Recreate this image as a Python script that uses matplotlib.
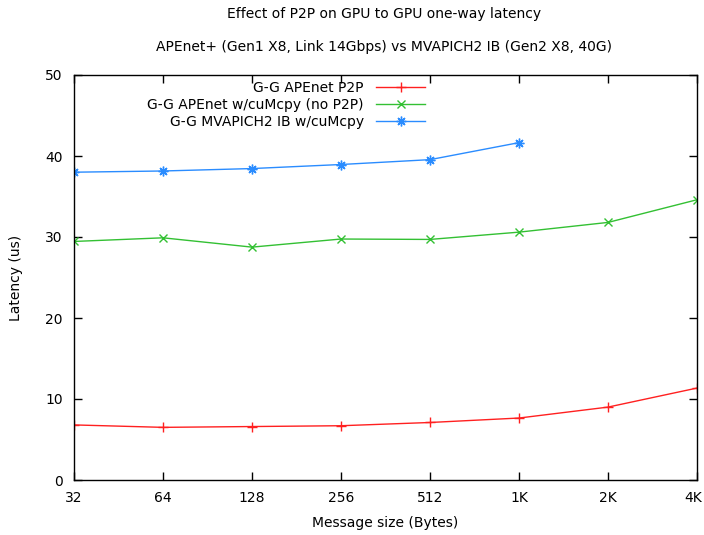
import numpy as np
import matplotlib
matplotlib.use('Agg')
from matplotlib import pyplot as plt
import matplotlib.transforms as mtransforms

# data
sizes = ['32', '64', '128', '256', '512', '1K', '2K', '4K']
apenet_p2p = [6.8, 6.5, 6.6, 6.7, 7.1, 7.65, 9.0, 11.35]
apenet_cumcpy = [29.45, 29.9, 28.75, 29.75, 29.7, 30.6, 31.8, 34.6]
mvapich_cumcpy = [38.0, 38.15, 38.45, 38.95, 39.55, 41.65]

plt.rcParams['font.family'] = 'DejaVu Sans'
plt.rcParams['font.size'] = 10

fig = plt.figure(figsize=(7.04, 5.35), dpi=100)
ax = fig.add_axes([74/704, 55/535, (697-74)/704, (480-75)/535])

x = np.arange(len(sizes))
ax.plot(x, apenet_p2p, color='#ff2020', lw=1, marker='+', ms=7, mew=1, label='G-G APEnet P2P')
ax.plot(x, apenet_cumcpy, color='#33c033', lw=1, marker='x', ms=6, mew=1, label='G-G APEnet w/cuMcpy (no P2P)')
ax.plot(x[:len(mvapich_cumcpy)], mvapich_cumcpy, color='#2a8cff', lw=1, marker=(8, 2, 0), ms=7, mew=1,
        label='G-G MVAPICH2 IB w/cuMcpy')

ax.set_xlim(0, len(sizes) - 1)
ax.set_ylim(0, 50)
ax.set_xticks(x)
ax.set_xticklabels(sizes)
ax.set_yticks(np.arange(0, 51, 10))
ax.tick_params(direction='in', top=True, right=True, length=6, width=1, pad=8, labelsize=10)
for s in ax.spines.values():
    s.set_linewidth(1)

# keep "4K" inside the canvas
last = ax.get_xticklabels()[-1]
last.set_transform(last.get_transform() + mtransforms.ScaledTranslation(-4/100, 0, fig.dpi_scale_trans))

ax.set_xlabel('Message size (Bytes)', labelpad=8)
ax.set_ylabel('Latency (us)', labelpad=16)

fig.text(384/704, 1 - 14/535, 'Effect of P2P on GPU to GPU one-way latency', ha='center', va='center', fontsize=10)
fig.text(384/704, 1 - 47/535, 'APEnet+ (Gen1 X8, Link 14Gbps) vs MVAPICH2 IB (Gen2 X8, 40G)', ha='center', va='center', fontsize=10)

leg = ax.legend(loc='upper right', bbox_to_anchor=(425/704, 1 - 81/535), bbox_transform=fig.transFigure,
                frameon=False, markerfirst=False, handlelength=3.5, handletextpad=0.9,
                labelspacing=0.22, borderaxespad=0, borderpad=0)

# right-justify legend rows like gnuplot
for col in leg._legend_handle_box.get_children():
    col.align = 'right'

fig.savefig('out.png', dpi=100)
